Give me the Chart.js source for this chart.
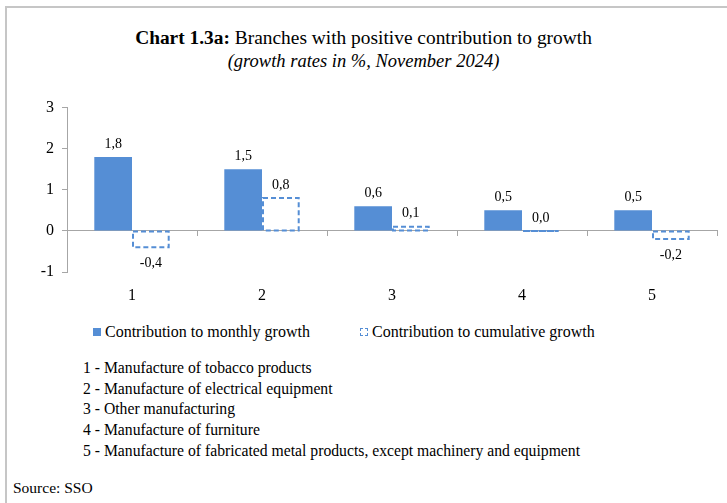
<!DOCTYPE html>
<html>
<head>
<meta charset="utf-8">
<script src="https://cdn.jsdelivr.net/npm/chart.js@4"></script>
<style>
  body { margin: 0; background: #fff; font-family: "Liberation Serif", serif; color: #000; }
  #page { position: relative; width: 727px; height: 503px; overflow: hidden; }
  #frame { position: absolute; left: 5px; top: 6px; right: -4px; bottom: -4px;
           border-top: 2px solid #c6c6c6; border-left: 2px solid #c6c6c6; }
  #title { position: absolute; top: 26px; left: 0; width: 727px; text-align: center;
           font-size: 19.4px; line-height: 23px; }
  #title i { font-size: 18.5px; }
  #chart { position: absolute; left: 0; top: 90px; }
  .leg { position: absolute; top: 322px; font-size: 16px; line-height: 20px; white-space: nowrap; }
  .box { display: inline-block; width: 8px; height: 8px; margin-right: 4px; vertical-align: 1px; }
  #notes { position: absolute; left: 83px; top: 358px; font-size: 15.7px; line-height: 20.7px; }
  #source { position: absolute; left: 13px; top: 479px; font-size: 15.5px; }
</style>
</head>
<body>
<div id="page">
  <div id="frame"></div>
  <div id="title"><b>Chart 1.3a:</b> Branches with positive contribution to growth<br><i>(growth rates in %, November 2024)</i></div>
  <canvas id="chart" width="727" height="220"></canvas>
  <div class="leg" id="leg1" style="left:93px"></div>
  <div class="leg" id="leg2" style="left:360px"></div>
  <div id="notes"></div>
  <div id="source">Source: SSO</div>
</div>
<script>
const categories = ["1", "2", "3", "4", "5"];
const monthly = [1.8, 1.5, 0.6, 0.5, 0.5];
const cumulative = [-0.4, 0.8, 0.1, 0.0, -0.2];
const seriesNames = ["Contribution to monthly growth", "Contribution to cumulative growth"];
const branchNames = [
  "Manufacture of tobacco products",
  "Manufacture of electrical equipment",
  "Other manufacturing",
  "Manufacture of furniture",
  "Manufacture of fabricated metal products, except machinery and equipment"
];
const yMin = -1, yMax = 3, yStep = 1;

const $ = id => document.getElementById(id);
const blue = "#558ED5";
const axisGray = "#a6a6a6";
const font = "Liberation Serif";

const fmt = v => v.toFixed(1).replace(".", ",");

$("leg1").innerHTML = `<span class="box" style="background:${blue}"></span>${seriesNames[0]}`;
$("leg2").innerHTML = `<span class="box" style="border:1.5px dashed ${blue};width:6px;height:6px"></span>${seriesNames[1]}`;
$("notes").innerHTML = branchNames.map((n, i) => `${categories[i]} - ${n}`).join("<br>");

// dashed outline for the cumulative series + value labels
const barLabels = {
  id: "barLabels",
  afterDatasetsDraw(chart) {
    const ctx = chart.ctx;
    ctx.save();

    const dashed = chart.getDatasetMeta(1);
    ctx.strokeStyle = blue;
    ctx.lineWidth = 2;
    ctx.setLineDash([5, 3]);
    dashed.data.forEach(b => {
      const { x, y, base, width } = b.getProps(["x", "y", "base", "width"], true);
      const top = Math.min(y, base);
      ctx.strokeRect(x - width / 2 + 1, top, width - 2, Math.abs(base - y));
    });
    ctx.setLineDash([]);

    ctx.fillStyle = "#000";
    ctx.font = `14px "${font}"`;
    ctx.textAlign = "center";
    ctx.textBaseline = "middle";
    chart.data.datasets.forEach((ds, i) => {
      chart.getDatasetMeta(i).data.forEach((b, j) => {
        const v = ds.data[j];
        const { x, y } = b.getProps(["x", "y"], true);
        ctx.fillText(fmt(v), x, v >= 0 ? y - 13 : y + 16);
      });
    });
    ctx.restore();
  }
};

new Chart($("chart"), {
  type: "bar",
  data: {
    labels: categories,
    datasets: [
      {
        label: seriesNames[0],
        data: monthly,
        backgroundColor: blue,
        borderWidth: 0,
        xAxisID: "x"
      },
      {
        label: seriesNames[1],
        data: cumulative,
        backgroundColor: "rgba(255,255,255,0)",
        borderWidth: 0,
        xAxisID: "x"
      }
    ]
  },
  options: {
    responsive: false,
    animation: false,
    barPercentage: 1,
    categoryPercentage: 0.58,
    layout: { padding: { top: 16, right: 10, left: 0, bottom: 0 } },
    plugins: {
      legend: { display: false },
      tooltip: { enabled: false }
    },
    scales: {
      x: {
        type: "category",
        offset: true,
        grid: { display: false, drawTicks: false },
        border: { display: false },
        ticks: { color: "#000", font: { family: font, size: 16 }, padding: 14 },
        afterFit: s => { s.height = 38; }
      },
      x2: {
        type: "category",
        labels: categories,
        position: { y: 0 },
        offset: true,
        grid: { offset: true, drawOnChartArea: false, drawTicks: true, tickLength: 5, color: axisGray },
        border: { display: true, color: axisGray, width: 1 },
        ticks: { display: false }
      },
      y: {
        min: yMin,
        max: yMax,
        ticks: { stepSize: yStep, color: "#000", font: { family: font, size: 16 }, padding: 8 },
        grid: { drawOnChartArea: false, tickLength: 5, color: axisGray },
        border: { color: axisGray, width: 1 },
        afterFit: s => { s.width = 67; }
      }
    }
  },
  plugins: [barLabels]
});
</script>
</body>
</html>
